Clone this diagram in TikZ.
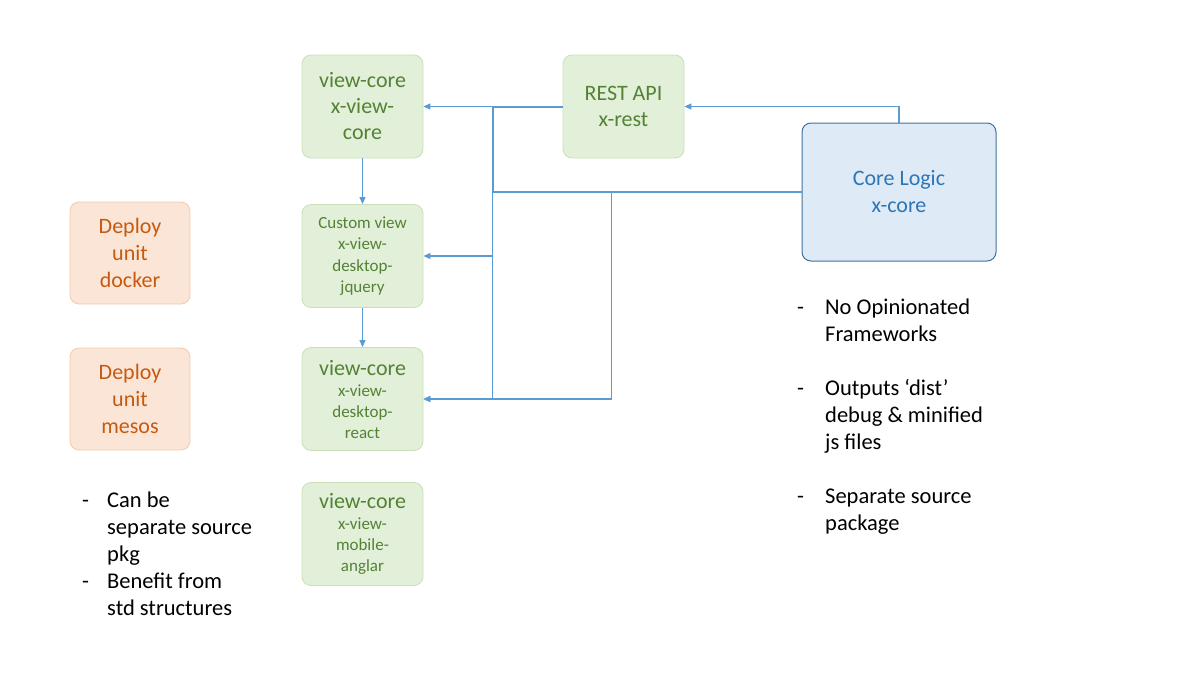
\documentclass[tikz,border=0pt]{standalone}
\usepackage{fontspec}
\setmainfont{Carlito}
\usetikzlibrary{arrows.meta}
\definecolor{gfill}{HTML}{E2F0D9}
\definecolor{gdraw}{HTML}{C9E0B8}
\definecolor{gtext}{HTML}{548235}
\definecolor{ofill}{HTML}{FBE5D6}
\definecolor{odraw}{HTML}{F4CBAE}
\definecolor{otext}{HTML}{C55A11}
\definecolor{bfill}{HTML}{DEEBF7}
\definecolor{bdraw}{HTML}{41719C}
\definecolor{btext}{HTML}{2E75B6}
\definecolor{lcol}{HTML}{5B9BD5}
\tikzset{
  gbox/.style={draw=gdraw, fill=gfill, text=gtext, rounded corners=9pt, minimum width=121pt, minimum height=103pt, align=center, inner sep=0pt, line width=0.8pt},
  obox/.style={draw=odraw, fill=ofill, text=otext, rounded corners=9pt, minimum width=120pt, minimum height=102pt, align=center, inner sep=0pt, line width=0.8pt, font=\fontsize{22}{27}\selectfont},
  bbox/.style={draw=bdraw, fill=bfill, text=btext, rounded corners=9pt, minimum width=194pt, minimum height=138pt, align=center, inner sep=0pt, line width=1pt, font=\fontsize{22}{27}\selectfont},
  big/.style={font=\fontsize{22}{26}\selectfont},
  conn/.style={draw=lcol, line width=1.2pt},
  arr/.style={conn, -{Triangle[length=7pt,width=6pt]}},
  txt/.style={anchor=base west, inner sep=0pt, font=\fontsize{22.5}{27}\selectfont, text=black},
}
\begin{document}
\begin{tikzpicture}[x=1pt,y=-1pt]
\useasboundingbox (0,0) rectangle (1200,675);
% boxes
\node[gbox, big] (vc) at (362.5,106.5) {view-core\\x-view-\\core};
\node[gbox, big] (rest) at (623.5,106.5) {REST API\\x-rest};
\node[bbox] (core) at (899,192) {Core Logic\\x-core};
\node[gbox, font=\fontsize{17}{21.5}\selectfont] (cv) at (362.5,256) {Custom view\\x-view-\\desktop-\\jquery};
\node[gbox, font=\fontsize{17}{21}\selectfont] (react) at (362.5,399) {{\fontsize{22}{24}\selectfont view-core}\\x-view-\\desktop-\\react};
\node[gbox, font=\fontsize{17}{21}\selectfont] (mob) at (362.5,534) {{\fontsize{22}{24}\selectfont view-core}\\x-view-\\mobile-\\anglar};
\node[obox] (dock) at (130,253) {Deploy\\unit\\docker};
\node[obox] (mesos) at (130,399) {Deploy\\unit\\mesos};
% connectors
\draw[arr] (core.north) |- (rest.east);
\draw[arr] (rest.west) -- (vc.east);
\draw[arr] (vc.south) -- (cv.north);
\draw[arr] (cv.south) -- (react.north);
\draw[arr] ([yshift=-1pt]rest.west) -- ++(-70,0) |- (cv.east);
\draw[arr] ([yshift=-1pt]rest.west) -- ++(-70,0) |- (react.east);
\draw[arr] (core.west) -- ++(-190,0) |- (react.east);
\draw[conn] (core.west) -- ++(-308,0) -- ++(0,-84);
% left bullets
\node[txt] (d1) at (82,507) {-};
\node[txt] (a1) at (107,507) {Can be};
\node[txt] (a2) at (107,534) {separate source};
\node[txt] (a3) at (107,561) {pkg};
\node[txt] (d2) at (82,588) {-};
\node[txt] (a4) at (107,588) {Benefit from};
\node[txt] (a5) at (107,615) {std structures};
% right bullets
\node[txt] (d3) at (797,314) {-};
\node[txt] (b1) at (825,314) {No Opinionated};
\node[txt] (b2) at (825,341) {Frameworks};
\node[txt] (d4) at (797,395) {-};
\node[txt] (b3) at (825,395) {Outputs ‘dist’};
\node[txt] (b4) at (825,422) {debug \& minified};
\node[txt] (b5) at (825,449) {js files};
\node[txt] (d5) at (797,503) {-};
\node[txt] (b6) at (825,503) {Separate source};
\node[txt] (b7) at (825,530) {package};
\end{tikzpicture}
\end{document}
